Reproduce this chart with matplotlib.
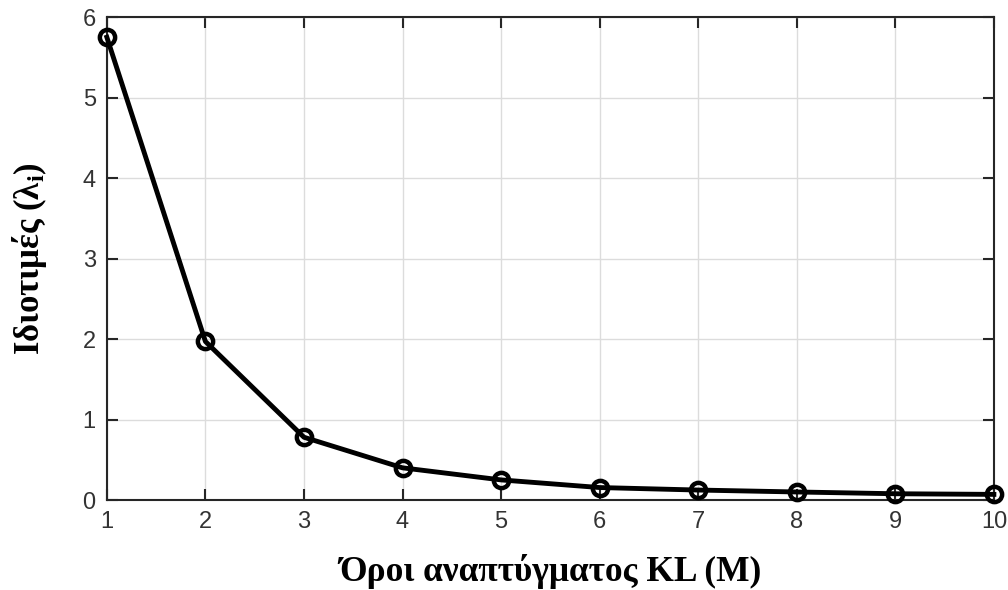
import matplotlib
matplotlib.use("Agg")
import matplotlib.pyplot as plt

# KL expansion eigenvalues per term
terms = [1, 2, 3, 4, 5, 6, 7, 8, 9, 10]
eigvals = [5.75, 1.97, 0.78, 0.40, 0.25, 0.155, 0.124, 0.10, 0.078, 0.07]

plt.rcParams["mathtext.fontset"] = "custom"
plt.rcParams["mathtext.rm"] = "Liberation Serif:bold"
plt.rcParams["mathtext.it"] = "Liberation Serif:bold"

fig = plt.figure(figsize=(10.08, 5.90), dpi=100)
ax = fig.add_axes([0.106, 0.1525, 0.880, 0.8185])

ax.plot(terms, eigvals, color="black", lw=3.5, marker="o", ms=11,
        mfc="none", mec="black", mew=3.2, clip_on=False, zorder=5)

ax.set_xlim(1, 10)
ax.set_ylim(0, 6)
ax.set_xticks(range(1, 11))
ax.set_yticks(range(0, 7))
ax.grid(True, color="#dcdcdc", lw=1)
ax.set_axisbelow(True)

for s in ax.spines.values():
    s.set_color("#262626")
    s.set_linewidth(1.5)
ax.tick_params(direction="in", length=8, width=1.5, color="#262626",
               labelsize=17, labelcolor="#333333", top=True, right=True,
               labeltop=False, labelright=False, pad=8)
for lab in ax.get_xticklabels() + ax.get_yticklabels():
    lab.set_family("Liberation Sans")

ax.set_xlabel("Όροι αναπτύγματος KL (M)", family="Liberation Serif",
              fontweight="bold", fontsize=25.5, labelpad=15)
ax.set_ylabel("Ιδιοτιμές (λ$_{i}$)", family="Liberation Serif",
              fontweight="bold", fontsize=25, labelpad=24)

fig.savefig("out.png", dpi=100)
